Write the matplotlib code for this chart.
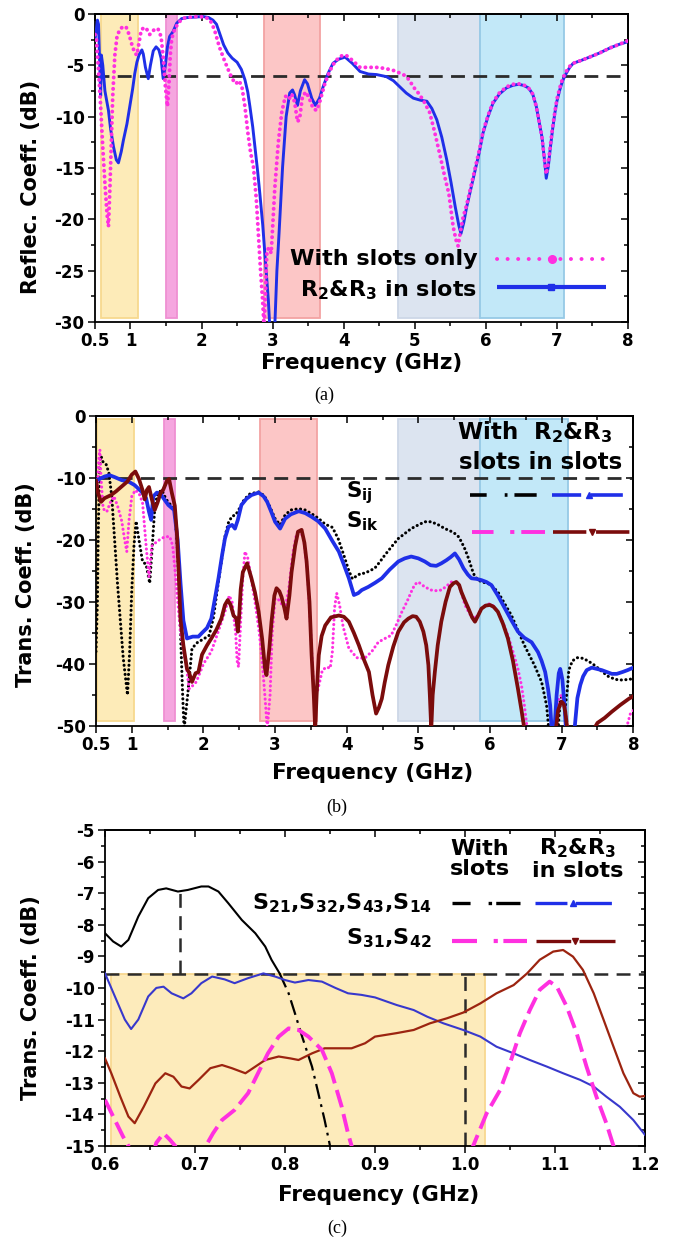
import numpy as np
import matplotlib
matplotlib.use("Agg")
import matplotlib.pyplot as plt
from matplotlib.ticker import NullFormatter

plt.rcParams["font.family"] = ["DejaVu Sans"]
plt.rcParams["font.weight"] = "bold"
plt.rcParams["axes.labelweight"] = "bold"
plt.rcParams["axes.unicode_minus"] = False
plt.rcParams["lines.scale_dashes"] = False
plt.rcParams["mathtext.fontset"] = "custom"
for key in ("rm", "it", "bf", "sf"):
    plt.rcParams["mathtext." + key] = "DejaVu Sans:bold"

# ---------------- (a) reflection coefficient ----------------
fa_r23 = [0.50, 0.52, 0.535, 0.55, 0.565, 0.58, 0.59, 0.61, 0.64, 0.69, 0.72, 0.76, 0.80, 0.83,
          0.87, 0.90, 0.95, 0.99, 1.03, 1.06, 1.09, 1.12, 1.16, 1.18, 1.21, 1.25, 1.28, 1.32,
          1.36, 1.40, 1.43, 1.46, 1.49, 1.52, 1.55, 1.60, 1.65, 1.72, 1.80, 1.90, 2.02, 2.10,
          2.16, 2.21, 2.26, 2.31, 2.37, 2.43, 2.50, 2.56, 2.61, 2.65, 2.68, 2.72, 2.75, 2.79,
          2.82, 2.86, 2.89, 2.92, 2.94, 2.96, 3.03, 3.06, 3.09, 3.14, 3.19, 3.24, 3.28, 3.31,
          3.35, 3.39, 3.45, 3.49, 3.55, 3.60, 3.66, 3.71, 3.78, 3.85, 3.93, 4.02, 4.12, 4.23,
          4.35, 4.46, 4.60, 4.70, 4.79, 4.88, 4.98, 5.08, 5.17, 5.24, 5.31, 5.38, 5.45, 5.51,
          5.57, 5.62, 5.65, 5.69, 5.73, 5.79, 5.85, 5.91, 5.96, 6.03, 6.10, 6.19, 6.29, 6.38,
          6.46, 6.53, 6.60, 6.66, 6.71, 6.75, 6.79, 6.83, 6.85, 6.88, 6.91, 6.94, 6.97, 7.00,
          7.04, 7.08, 7.13, 7.18, 7.23, 7.35, 7.46, 7.60, 7.75, 7.88, 8.00]
sa_r23 = [-2.5, -1.5, -0.6, -1.0, -4.5, -8.0, -4.0, -5.0, -7.5, -9.4, -11.2, -12.9, -14.2, -14.5,
          -13.4, -12.3, -10.7, -9.0, -7.3, -5.8, -4.7, -4.0, -3.5, -3.9, -5.2, -6.3, -5.0, -3.6,
          -3.2, -3.5, -4.3, -6.3, -5.0, -3.2, -2.2, -1.7, -0.9, -0.45, -0.35, -0.3, -0.25, -0.35,
          -0.6, -1.0, -2.0, -3.0, -3.8, -4.3, -4.7, -5.4, -6.4, -7.6, -9.0, -11.0, -12.9, -15.4,
          -17.5, -20.5, -23.3, -26.0, -27.9, -30.5, -30.5, -25.0, -21.4, -14.9, -10.0, -7.7, -7.4, -7.9,
          -8.9, -7.5, -6.4, -6.8, -8.2, -8.9, -8.2, -7.1, -5.8, -4.8, -4.4, -4.2, -4.8, -5.6,
          -5.85, -5.9, -6.1, -6.5, -7.1, -7.7, -8.2, -8.4, -8.5, -9.2, -10.3, -12.0, -14.2, -16.4,
          -18.8, -20.6, -21.4, -20.3, -18.8, -17.0, -15.2, -13.4, -11.6, -10.0, -8.7, -7.8, -7.2, -6.95,
          -6.85, -6.95, -7.2, -7.8, -9.0, -10.5, -12.0, -14.5, -16.0, -14.8, -12.9, -11.2, -9.7, -8.5,
          -7.4, -6.5, -5.8, -5.2, -4.8, -4.5, -4.2, -3.8, -3.3, -2.95, -2.7]

fa_slots = [0.50, 0.52, 0.55, 0.58, 0.61, 0.64, 0.67, 0.69, 0.71, 0.73, 0.75, 0.78, 0.81, 0.85,
            0.90, 0.94, 0.98, 1.02, 1.06, 1.09, 1.12, 1.15, 1.19, 1.23, 1.27, 1.31, 1.35, 1.39,
            1.43, 1.46, 1.49, 1.52, 1.54, 1.56, 1.58, 1.62, 1.68, 1.75, 1.85, 1.95, 2.05, 2.12,
            2.18, 2.25, 2.32, 2.38, 2.43, 2.48, 2.53, 2.57, 2.61, 2.65, 2.69, 2.73, 2.77, 2.80,
            2.83, 2.86, 2.88, 2.90, 2.92, 2.95, 2.98, 3.03, 3.08, 3.13, 3.18, 3.23, 3.27, 3.31,
            3.35, 3.38, 3.42, 3.47, 3.52, 3.57, 3.62, 3.67, 3.73, 3.80, 3.88, 3.96, 4.03, 4.12,
            4.23, 4.35, 4.46, 4.58, 4.70, 4.84, 4.92, 4.98, 5.05, 5.12, 5.21, 5.28, 5.35, 5.42,
            5.48, 5.54, 5.58, 5.61, 5.64, 5.68, 5.73, 5.79, 5.85, 5.91, 5.96, 6.03, 6.10, 6.19,
            6.29, 6.38, 6.46, 6.53, 6.60, 6.66, 6.71, 6.75, 6.79, 6.83, 6.85, 6.88, 6.91, 6.94,
            6.97, 7.00, 7.04, 7.08, 7.13, 7.18, 7.23, 7.35, 7.46, 7.60, 7.75, 7.88, 8.00]
sa_slots = [-2.0, -2.5, -5.5, -9.0, -13.0, -16.5, -19.5, -20.7, -17.0, -12.5, -8.0, -4.0, -2.2, -1.5,
            -1.2, -1.3, -2.0, -3.0, -3.8, -4.0, -2.8, -1.6, -1.3, -1.5, -2.0, -1.7, -1.4, -1.5,
            -2.2, -4.2, -7.0, -9.0, -7.0, -4.0, -2.4, -1.5, -0.8, -0.4, -0.3, -0.25, -0.3, -0.6,
            -1.5, -3.2, -4.5, -5.5, -6.3, -6.8, -6.5, -7.2, -9.0, -11.5, -13.5, -14.9, -18.0, -21.5,
            -25.0, -28.0, -30.5, -27.0, -23.0, -22.8, -23.3, -17.0, -12.5, -9.5, -8.0, -8.3, -7.8, -8.6,
            -10.5, -10.2, -8.0, -7.6, -8.3, -9.2, -9.4, -8.4, -6.9, -5.6, -4.6, -4.1, -4.0, -4.5,
            -5.2, -5.2, -5.2, -5.3, -5.5, -5.9, -6.4, -7.1, -7.7, -8.4, -9.6, -11.5, -13.6, -15.8,
            -17.5, -20.7, -22.0, -22.6, -21.3, -19.8, -18.6, -16.8, -15.0, -13.2, -11.5, -9.9, -8.6, -7.7,
            -7.1, -6.85, -6.8, -6.9, -7.2, -7.8, -9.0, -10.5, -12.0, -14.5, -15.6, -14.5, -12.7, -11.0,
            -9.6, -8.3, -7.2, -6.3, -5.6, -5.1, -4.8, -4.5, -4.2, -3.8, -3.3, -2.95, -2.6]

# ---------------- (b) transmission coefficient ----------------
fb_ij_slots = [0.50, 0.52, 0.53, 0.55, 0.57, 0.60, 0.64, 0.68, 0.72, 0.76, 0.80, 0.84, 0.88, 0.92,
               0.94, 0.97, 1.00, 1.03, 1.06, 1.10, 1.15, 1.20, 1.25, 1.28, 1.32, 1.36, 1.42, 1.48,
               1.55, 1.60, 1.64, 1.68, 1.71, 1.73, 1.78, 1.84, 1.92, 2.00, 2.08, 2.14, 2.20, 2.25,
               2.30, 2.35, 2.40, 2.45, 2.50, 2.57, 2.65, 2.77, 2.85, 2.92, 3.00, 3.07, 3.14, 3.22,
               3.33, 3.42, 3.51, 3.60, 3.70, 3.80, 3.88, 3.96, 4.03, 4.08, 4.14, 4.20, 4.25, 4.32,
               4.39, 4.46, 4.53, 4.62, 4.72, 4.81, 4.90, 5.00, 5.09, 5.18, 5.28, 5.37, 5.45, 5.51,
               5.56, 5.60, 5.65, 5.70, 5.75, 5.79, 5.88, 5.97, 6.04, 6.11, 6.20, 6.30, 6.39, 6.48,
               6.55, 6.62, 6.72, 6.79, 6.82, 6.95, 6.98, 7.01, 7.05, 7.08, 7.10, 7.15, 7.22, 7.30,
               7.38, 7.47, 7.56, 7.65, 7.75, 7.85, 8.00]
sb_ij_slots = [-38.0, -30.0, -20.0, -8.0, -6.5, -7.5, -7.8, -9.2, -13.0, -20.0, -27.0, -33.0, -39.0, -43.0,
               -45.0, -38.0, -28.0, -21.0, -17.0, -20.0, -23.5, -24.0, -27.0, -22.0, -15.0, -12.5, -12.0, -13.5,
               -14.5, -15.0, -22.0, -35.0, -45.0, -50.5, -45.0, -37.5, -36.5, -36.0, -35.4, -32.5, -27.5, -23.5,
               -19.5, -17.2, -16.2, -16.0, -15.0, -13.5, -12.6, -12.3, -12.9, -14.5, -16.6, -17.6, -16.0, -15.2,
               -15.0, -15.2, -15.8, -16.5, -17.5, -18.0, -19.8, -22.5, -25.0, -26.3, -25.8, -25.4, -25.4, -25.0,
               -24.6, -23.6, -22.5, -21.2, -19.8, -19.0, -18.2, -17.6, -17.1, -17.1, -17.6, -18.2, -18.6, -19.0,
               -19.5, -20.3, -21.5, -23.0, -24.8, -26.0, -26.8, -27.0, -27.6, -28.4, -30.2, -32.2, -34.6, -37.0,
               -38.6, -40.2, -42.9, -46.7, -50.5, -50.5, -46.0, -45.0, -47.0, -44.0, -41.0, -39.5, -39.0, -39.1,
               -39.6, -40.3, -41.2, -42.0, -42.5, -42.6, -42.4]

fb_ij_r23 = [0.50, 0.55, 0.62, 0.69, 0.76, 0.86, 0.95, 1.04, 1.14, 1.20, 1.24, 1.27, 1.30, 1.35,
             1.40, 1.46, 1.51, 1.59, 1.64, 1.68, 1.72, 1.77, 1.85, 1.93, 1.98, 2.05, 2.11, 2.16,
             2.21, 2.26, 2.30, 2.35, 2.40, 2.44, 2.48, 2.53, 2.60, 2.67, 2.77, 2.84, 2.89, 2.95,
             3.00, 3.07, 3.14, 3.22, 3.33, 3.42, 3.51, 3.60, 3.70, 3.80, 3.89, 3.96, 4.03, 4.10,
             4.16, 4.21, 4.30, 4.40, 4.49, 4.60, 4.72, 4.81, 4.90, 5.00, 5.09, 5.17, 5.25, 5.32,
             5.39, 5.45, 5.51, 5.57, 5.63, 5.69, 5.74, 5.81, 5.88, 5.95, 6.02, 6.11, 6.21, 6.30,
             6.39, 6.48, 6.58, 6.67, 6.72, 6.77, 6.81, 6.84, 6.86, 6.90, 6.93, 6.96, 6.98, 7.01,
             7.04, 7.06, 7.18, 7.22, 7.26, 7.30, 7.35, 7.42, 7.49, 7.56, 7.63, 7.70, 7.77, 7.85,
             7.92, 8.00]
sb_ij_r23 = [-10.4, -10.2, -9.8, -9.6, -9.9, -10.4, -10.6, -11.2, -12.3, -13.3, -15.5, -16.8, -13.0, -12.4,
             -12.6, -13.6, -14.4, -15.2, -20.0, -27.0, -33.0, -35.9, -35.6, -35.6, -35.0, -34.2, -32.7, -29.5,
             -26.2, -22.5, -19.8, -17.9, -17.6, -18.2, -16.8, -14.4, -13.4, -12.8, -12.4, -13.0, -13.9, -15.6,
             -17.1, -18.2, -16.6, -15.9, -15.4, -15.7, -16.3, -17.0, -18.2, -20.2, -21.9, -24.0, -26.2, -28.9,
             -28.6, -28.1, -27.6, -26.9, -26.2, -24.8, -23.5, -23.0, -22.7, -23.0, -23.5, -24.1, -24.2, -23.8,
             -23.3, -22.8, -22.2, -23.2, -24.6, -25.6, -26.2, -26.3, -26.5, -26.8, -27.3, -29.0, -31.1, -33.0,
             -34.8, -35.8, -36.5, -38.1, -39.5, -41.3, -44.0, -46.7, -50.5, -50.5, -45.0, -41.5, -40.8, -42.5,
             -46.7, -50.5, -50.5, -45.5, -43.4, -42.0, -41.0, -40.6, -40.8, -41.0, -41.3, -41.6, -41.6, -41.3,
             -41.0, -40.6]

fb_ik_slots = [0.50, 0.52, 0.54, 0.555, 0.57, 0.60, 0.65, 0.70, 0.75, 0.80, 0.86, 0.90, 0.93, 0.96,
               1.00, 1.05, 1.10, 1.15, 1.20, 1.24, 1.28, 1.33, 1.41, 1.47, 1.53, 1.57, 1.62, 1.68,
               1.76, 1.80, 1.85, 1.90, 2.00, 2.11, 2.20, 2.30, 2.36, 2.40, 2.45, 2.47, 2.49, 2.52,
               2.55, 2.58, 2.62, 2.67, 2.72, 2.78, 2.83, 2.87, 2.89, 2.93, 2.96, 3.00, 3.04, 3.10,
               3.14, 3.19, 3.25, 3.30, 3.35, 3.40, 3.45, 3.49, 3.52, 3.55, 3.60, 3.66, 3.72, 3.77,
               3.80, 3.83, 3.86, 3.90, 3.95, 4.03, 4.14, 4.25, 4.35, 4.44, 4.55, 4.62, 4.70, 4.77,
               4.84, 4.90, 4.95, 5.00, 5.09, 5.18, 5.25, 5.32, 5.39, 5.46, 5.55, 5.60, 5.65, 5.72,
               5.79, 5.84, 5.88, 5.94, 6.00, 6.05, 6.11, 6.18, 6.25, 6.32, 6.39, 6.44, 6.48, 6.52,
               6.92, 6.96, 7.00, 7.05, 7.08, 7.90, 7.96, 8.00]
sb_ik_slots = [-10.5, -12.0, -7.0, -5.5, -10.0, -15.0, -15.5, -14.0, -13.0, -14.5, -17.0, -20.0, -21.9, -17.0,
               -13.0, -12.0, -12.5, -14.0, -21.0, -26.0, -21.0, -20.5, -19.8, -19.5, -19.5, -20.9, -27.0, -35.0,
               -40.2, -44.0, -43.5, -42.9, -40.0, -38.0, -35.0, -31.6, -29.0, -30.0, -35.0, -39.5, -40.5, -33.0,
               -26.0, -21.9, -23.0, -26.5, -30.0, -35.0, -41.0, -47.0, -50.5, -45.0, -35.0, -29.5, -29.5, -30.5,
               -31.0, -28.0, -22.0, -19.0, -18.4, -20.0, -25.0, -33.0, -40.0, -46.0, -44.0, -41.0, -40.5, -40.7,
               -38.0, -31.0, -28.6, -30.5, -34.0, -37.5, -39.0, -39.1, -38.0, -36.5, -35.8, -35.4, -33.5, -31.6,
               -30.0, -28.4, -27.2, -26.8, -27.6, -28.1, -28.2, -28.1, -27.5, -26.8, -26.8, -28.5, -30.5, -32.0,
               -32.7, -32.0, -31.1, -30.5, -30.3, -30.7, -31.6, -33.3, -35.4, -38.0, -40.8, -43.5, -46.7, -50.5,
               -50.5, -45.5, -45.0, -47.0, -50.5, -50.5, -48.0, -47.5]

fb_ik_r23 = [0.50, 0.53, 0.57, 0.62, 0.71, 0.78, 0.85, 0.94, 1.00, 1.05, 1.10, 1.15, 1.18, 1.21,
             1.24, 1.28, 1.32, 1.36, 1.40, 1.44, 1.49, 1.52, 1.56, 1.60, 1.63, 1.66, 1.68, 1.72,
             1.77, 1.80, 1.84, 1.89, 1.93, 1.98, 2.05, 2.11, 2.18, 2.25, 2.30, 2.34, 2.38, 2.42,
             2.46, 2.48, 2.50, 2.52, 2.55, 2.61, 2.67, 2.72, 2.77, 2.82, 2.86, 2.88, 2.92, 2.95,
             2.99, 3.02, 3.06, 3.09, 3.13, 3.16, 3.20, 3.23, 3.28, 3.32, 3.37, 3.41, 3.44, 3.48,
             3.51, 3.54, 3.56, 3.58, 3.61, 3.65, 3.70, 3.78, 3.89, 3.96, 4.03, 4.10, 4.17, 4.24,
             4.31, 4.36, 4.41, 4.45, 4.49, 4.53, 4.58, 4.65, 4.72, 4.80, 4.86, 4.92, 4.97, 5.02,
             5.07, 5.11, 5.14, 5.16, 5.18, 5.20, 5.23, 5.27, 5.32, 5.38, 5.44, 5.49, 5.53, 5.57,
             5.60, 5.65, 5.70, 5.75, 5.79, 5.83, 5.88, 5.94, 6.00, 6.05, 6.11, 6.18, 6.25, 6.32,
             6.39, 6.44, 6.48, 6.92, 6.95, 6.98, 7.00, 7.03, 7.05, 7.08, 7.45, 7.50, 7.60, 7.70,
             7.82, 7.94, 8.00]
sb_ik_r23 = [-10.5, -12.5, -13.9, -13.3, -12.8, -12.2, -11.5, -10.6, -9.5, -9.0, -10.2, -12.0, -13.5, -12.0,
             -11.5, -13.5, -15.2, -14.0, -12.5, -11.9, -10.5, -10.2, -12.5, -14.5, -19.0, -27.0, -32.8, -37.0,
             -40.8, -41.4, -42.9, -41.5, -41.3, -38.5, -37.0, -35.9, -34.5, -32.7, -30.5, -29.7, -30.5, -32.2,
             -32.7, -34.8, -32.0, -28.0, -25.2, -23.8, -26.2, -28.5, -31.6, -36.0, -40.8, -41.8, -37.5, -33.2,
             -29.0, -27.8, -28.3, -29.2, -31.0, -32.7, -29.0, -25.2, -21.0, -18.7, -18.4, -20.5, -23.5, -30.0,
             -38.6, -45.0, -50.5, -45.0, -38.6, -35.5, -33.8, -32.5, -32.2, -32.4, -33.2, -35.0, -37.0, -39.3,
             -41.3, -45.0, -48.0, -47.0, -45.6, -43.0, -40.2, -37.2, -34.8, -33.3, -32.7, -32.3, -32.4, -33.2,
             -34.8, -37.0, -40.2, -45.0, -50.5, -45.0, -41.3, -37.0, -33.2, -30.0, -27.6, -27.0, -26.8, -27.3,
             -28.4, -29.8, -31.1, -32.5, -33.2, -32.3, -31.1, -30.6, -30.5, -30.8, -31.6, -33.5, -35.9, -39.5,
             -44.0, -47.5, -50.5, -50.5, -47.5, -46.5, -46.1, -46.5, -47.7, -50.5, -50.5, -49.5, -48.7, -47.7,
             -46.6, -45.6, -45.2]

# ---------------- (c) low-band zoom ----------------
fc_s21_slots = [0.600, 0.609, 0.618, 0.626, 0.637, 0.648, 0.659, 0.668, 0.681, 0.692, 0.707, 0.715,
                0.726, 0.737, 0.752, 0.767, 0.778, 0.785, 0.794, 0.804, 0.811, 0.819, 0.830, 0.837,
                0.844, 0.850]
sc_s21_slots = [-8.27, -8.53, -8.69, -8.48, -7.74, -7.16, -6.90, -6.85, -6.95, -6.90, -6.79, -6.79,
                -6.95, -7.32, -7.85, -8.27, -8.69, -9.11, -9.54, -10.17, -10.80, -11.54, -12.49, -13.33,
                -14.18, -15.00]

fc_s21_r23 = [0.600, 0.611, 0.622, 0.629, 0.637, 0.648, 0.657, 0.665, 0.674, 0.687, 0.696, 0.707,
              0.719, 0.733, 0.744, 0.759, 0.776, 0.789, 0.800, 0.811, 0.826, 0.841, 0.856, 0.870,
              0.885, 0.900, 0.924, 0.943, 0.958, 0.976, 0.998, 1.017, 1.035, 1.054, 1.072, 1.091,
              1.109, 1.128, 1.143, 1.157, 1.172, 1.187, 1.200]
sc_s21_r23 = [-9.54, -10.27, -11.00, -11.30, -11.00, -10.27, -10.00, -9.96, -10.17, -10.33, -10.17, -9.85,
              -9.64, -9.73, -9.85, -9.69, -9.54, -9.64, -9.75, -9.83, -9.75, -9.80, -10.00, -10.17,
              -10.22, -10.30, -10.54, -10.70, -10.91, -11.12, -11.33, -11.54, -11.86, -12.07, -12.28, -12.49,
              -12.70, -12.91, -13.12, -13.44, -13.76, -14.18, -14.65]

fc_s31_slots = [0.600, 0.611, 0.620, 0.626, 0.632, 0.650, 0.657, 0.665, 0.672, 0.678, 0.684, 0.700,
                0.712, 0.720, 0.730, 0.744, 0.759, 0.770, 0.781, 0.793, 0.804, 0.815, 0.826, 0.841,
                0.852, 0.863, 0.870, 0.874, 0.880, 1.000, 1.009, 1.024, 1.039, 1.050, 1.061, 1.072,
                1.083, 1.094, 1.102, 1.113, 1.124, 1.135, 1.146, 1.157, 1.165, 1.172]
sc_s31_slots = [-13.54, -14.18, -14.70, -15.00, -15.60, -15.60, -14.90, -14.60, -14.80, -15.00, -15.60, -15.60,
                -15.00, -14.60, -14.18, -13.86, -13.33, -12.70, -12.07, -11.54, -11.28, -11.33, -11.54, -11.96,
                -12.70, -13.76, -14.60, -15.00, -15.60, -15.60, -15.00, -13.97, -13.23, -12.38, -11.43, -10.70,
                -10.06, -9.80, -9.96, -10.59, -11.43, -12.49, -13.44, -14.28, -15.00, -15.60]

fc_s31_r23 = [0.600, 0.607, 0.617, 0.626, 0.633, 0.643, 0.656, 0.667, 0.676, 0.685, 0.694, 0.704,
              0.717, 0.730, 0.741, 0.756, 0.767, 0.778, 0.793, 0.806, 0.815, 0.830, 0.844, 0.859,
              0.874, 0.889, 0.900, 0.924, 0.943, 0.961, 0.980, 0.998, 1.017, 1.035, 1.054, 1.069,
              1.083, 1.098, 1.109, 1.120, 1.131, 1.143, 1.154, 1.165, 1.176, 1.187, 1.194, 1.200]
sc_s31_r23 = [-12.23, -12.70, -13.44, -14.07, -14.28, -13.76, -13.02, -12.70, -12.81, -13.12, -13.18, -12.91,
              -12.54, -12.44, -12.54, -12.70, -12.49, -12.28, -12.17, -12.23, -12.28, -12.07, -11.91, -11.91,
              -11.91, -11.75, -11.54, -11.43, -11.33, -11.12, -10.96, -10.78, -10.49, -10.17, -9.91, -9.54,
              -9.11, -8.85, -8.80, -9.01, -9.43, -10.17, -11.01, -11.86, -12.70, -13.33, -13.44, -13.42]

# reference levels and highlighted bands
ref_a, ref_b, ref_c = -6.0, -10.0, -9.55
bands_a_lo = [0.58, 1.50, 2.88, 4.77, 5.92]
bands_a_hi = [1.10, 1.66, 3.66, 5.92, 7.10]
bands_b_lo = [0.52, 1.45, 2.79, 4.72, 5.86]
bands_b_hi = [1.03, 1.61, 3.59, 5.86, 7.09]
band_c_lo, band_c_hi = 0.607, 1.022
vline_c_f = [0.683, 1.0]
vline_c_top = [-6.95, -9.55]
vline_c_bot = [-9.55, -15.0]

xt_ab = [0.5, 1, 2, 3, 4, 5, 6, 7, 8]
xt_ab_labels = ["0.5", "1", "2", "3", "4", "5", "6", "7", "8"]
xt_c = [0.6, 0.7, 0.8, 0.9, 1.0, 1.1, 1.2]
xt_c_labels = ["0.6", "0.7", "0.8", "0.9", "1.0", "1.1", "1.2"]

band_fill = ["#fdebb8", "#f5a6df", "#fcc6c6", "#dce4f0", "#c2e8f8"]
band_edge = ["#f7d98f", "#ef90d2", "#f3a3a3", "#cdd7e7", "#96c9e6"]

BLUE = "#1f2fe8"
PINK = "#ff30e0"
DRED = "#7b0c0c"
RED_C = "#9c2410"
BLUE_C = "#3838cc"
REFC = "#2b2b2b"

fig = plt.figure(figsize=(6.74, 12.37), dpi=100)
ax_a = fig.add_axes([0.1409, 0.7397, 0.7908, 0.2490])
ax_b = fig.add_axes([0.1424, 0.4131, 0.7972, 0.2509])
ax_c = fig.add_axes([0.1558, 0.0736, 0.8012, 0.2555])


def frame(ax, xlim, ylim, xmaj, xlabels, xmin, ymaj, ymin):
    ax.set_xlim(xlim)
    ax.set_ylim(ylim)
    ax.set_xticks(xmaj)
    ax.set_xticklabels(xlabels)
    ax.set_xticks(xmin, minor=True)
    ax.set_yticks(ymaj)
    ax.set_yticklabels([f"{v:g}" for v in ymaj])
    ax.set_yticks(ymin, minor=True)
    ax.tick_params(which="both", direction="out", top=False, right=False,
                   width=1.1, labelsize=12, pad=2.5)
    ax.tick_params(which="major", length=5)
    ax.tick_params(which="minor", length=3)
    for sp in ax.spines.values():
        sp.set_linewidth(1.3)
    # mirrored inward ticks on top and right
    top = ax.secondary_xaxis("top")
    top.set_xticks(xmaj)
    top.set_xticks(xmin, minor=True)
    top.xaxis.set_major_formatter(NullFormatter())
    top.tick_params(which="both", direction="in", width=1.1)
    top.tick_params(which="major", length=5)
    top.tick_params(which="minor", length=3)
    right = ax.secondary_yaxis("right")
    right.set_yticks(ymaj)
    right.set_yticks(ymin, minor=True)
    right.yaxis.set_major_formatter(NullFormatter())
    right.tick_params(which="both", direction="in", width=1.1)
    right.tick_params(which="major", length=5)
    right.tick_params(which="minor", length=3)
    for sec in (top, right):
        for sp in sec.spines.values():
            sp.set_linewidth(1.3)


def sample(ax, x0, x1, y, color, lw, dashes=None, marker=None, ms=5):
    kw = dict(color=color, lw=lw, transform=ax.transAxes, clip_on=False, zorder=6)
    if dashes:
        kw["dashes"] = dashes
    ax.plot([x0, x1], [y, y], solid_capstyle="butt", dash_capstyle="butt", **kw)
    if marker:
        ax.plot([(x0 + x1) / 2], [y], marker=marker, ms=ms, color=color,
                transform=ax.transAxes, clip_on=False, zorder=7)


def bands(ax, lo, hi, y0, y1):
    for a, b, fc, ec in zip(lo, hi, band_fill, band_edge):
        ax.axvspan(a, b, ymin=y0, ymax=y1, facecolor=fc, edgecolor=ec, lw=1.3, zorder=0)


# ---------------- panel (a) ----------------
bands(ax_a, bands_a_lo, bands_a_hi, 0.013, 1.0)
ax_a.axhline(ref_a, color=REFC, lw=2.0, dashes=(10, 6), zorder=2)
ax_a.plot(fa_r23, sa_r23, color=BLUE, lw=2.1, zorder=3)
ax_a.plot(fa_slots, sa_slots, color=PINK, lw=2.8, dashes=(0.1, 4.0),
          dash_capstyle="round", zorder=4)
frame(ax_a, (0.5, 8), (-30, 0), xt_ab, xt_ab_labels, np.arange(1.5, 8, 1.0),
      np.arange(-30, 1, 5), np.arange(-27.5, 0, 5))
ax_a.set_xlabel("Frequency (GHz)", fontsize=15.5)
ax_a.xaxis.set_label_coords(0.50, -0.10)
ax_a.set_ylabel("Reflec. Coeff. (dB)", fontsize=15)
ax_a.yaxis.set_label_coords(-0.101, 0.438)
ax_a.text(0.717, 0.205, "With slots only", transform=ax_a.transAxes, ha="right",
          va="center", fontsize=16, zorder=6)
ax_a.text(0.717, 0.104, "R$_2$&R$_3$ in slots", transform=ax_a.transAxes, ha="right",
          va="center", fontsize=16, zorder=6)
ax_a.plot([0.754, 0.959], [0.204, 0.204], color=PINK, lw=2.8, dashes=(0.1, 7.5),
          dash_capstyle="round", transform=ax_a.transAxes, clip_on=False, zorder=6)
ax_a.plot([0.857], [0.204], "o", color=PINK, ms=5.5, transform=ax_a.transAxes, zorder=7)
sample(ax_a, 0.754, 0.959, 0.115, BLUE, 3.0, marker="s", ms=4)

# ---------------- panel (b) ----------------
bands(ax_b, bands_b_lo, bands_b_hi, 0.016, 0.99)
ax_b.axhline(ref_b, color=REFC, lw=2.0, dashes=(10, 6), zorder=2)
ax_b.plot(fb_ij_slots, sb_ij_slots, color="black", lw=2.2, dashes=(0.1, 3.2),
          dash_capstyle="round", zorder=3)
ax_b.plot(fb_ik_slots, sb_ik_slots, color=PINK, lw=2.2, dashes=(0.1, 3.2),
          dash_capstyle="round", zorder=3)
ax_b.plot(fb_ij_r23, sb_ij_r23, color=BLUE, lw=2.7, zorder=4)
ax_b.plot(fb_ik_r23, sb_ik_r23, color=DRED, lw=2.7, zorder=5)
frame(ax_b, (0.5, 8), (-50, 0), xt_ab, xt_ab_labels, np.arange(1.5, 8, 1.0),
      np.arange(-50, 1, 10), np.arange(-45, 0, 10))
ax_b.set_xlabel("Frequency (GHz)", fontsize=15.5)
ax_b.xaxis.set_label_coords(0.515, -0.119)
ax_b.set_ylabel("Trans. Coeff. (dB)", fontsize=15)
ax_b.yaxis.set_label_coords(-0.111, 0.454)
ax_b.text(0.671, 0.947, "With  R$_2$&R$_3$", transform=ax_b.transAxes, ha="left",
          va="center", fontsize=16.5, zorder=6)
ax_b.text(0.675, 0.848, "slots in slots", transform=ax_b.transAxes, ha="left",
          va="center", fontsize=16.5, zorder=6)
ax_b.text(0.466, 0.751, "S$_{ij}$", transform=ax_b.transAxes, ha="left",
          va="center", fontsize=15.5, zorder=6)
ax_b.text(0.466, 0.661, "S$_{ik}$", transform=ax_b.transAxes, ha="left",
          va="center", fontsize=15.5, zorder=6)
sample(ax_b, 0.696, 0.823, 0.744, "black", 2.6, dashes=(12, 13, 2, 5, 16, 20))
sample(ax_b, 0.848, 0.988, 0.744, BLUE, 2.6, dashes=(21, 7, 23, 10), marker="^", ms=5)
sample(ax_b, 0.699, 0.836, 0.626, PINK, 2.8, dashes=(15.5, 12, 3, 5, 18, 20))
sample(ax_b, 0.851, 0.994, 0.626, DRED, 2.6, dashes=(24, 7, 24, 10), marker="v", ms=5)

# ---------------- panel (c) ----------------
ax_c.fill_between([band_c_lo, band_c_hi], -15, ref_c, facecolor="#fdebbb",
                  edgecolor="#f8d890", lw=1.3, zorder=0)
ax_c.axhline(ref_c, color=REFC, lw=1.8, dashes=(10, 6), zorder=2)
ax_c.vlines(vline_c_f, vline_c_bot, vline_c_top, color=REFC, lw=1.8,
            linestyles=(0, (10, 6)), zorder=2)
split = int(np.nonzero(np.array(sc_s21_slots) >= ref_c)[0][-1])
ax_c.plot(fc_s21_slots[:split + 1], sc_s21_slots[:split + 1], color="black", lw=1.5, zorder=3)
ax_c.plot(fc_s21_slots[split:], sc_s21_slots[split:], color="black", lw=1.6,
          dashes=(11, 4, 2, 4), zorder=3)
ax_c.plot(fc_s21_r23, sc_s21_r23, color=BLUE_C, lw=1.5, zorder=4)
ax_c.plot(fc_s31_r23, sc_s31_r23, color=RED_C, lw=1.6, zorder=4)
ax_c.plot(fc_s31_slots, sc_s31_slots, color=PINK, lw=2.8, dashes=(13, 5), zorder=5)
frame(ax_c, (0.6, 1.2), (-15, -5), xt_c, xt_c_labels, np.arange(0.65, 1.2, 0.1),
      np.arange(-15, -4, 1), np.arange(-14.5, -5, 1))
ax_c.set_xlabel("Frequency (GHz)", fontsize=15.5)
ax_c.xaxis.set_label_coords(0.506, -0.123)
ax_c.set_ylabel("Trans. Coeff. (dB)", fontsize=15)
ax_c.yaxis.set_label_coords(-0.1185, 0.468)
ax_c.text(0.694, 0.908, "With\nslots", transform=ax_c.transAxes, ha="center",
          va="center", fontsize=16, linespacing=1.05, zorder=6)
ax_c.text(0.875, 0.908, "R$_2$&R$_3$\nin slots", transform=ax_c.transAxes, ha="center",
          va="center", fontsize=16, linespacing=1.05, zorder=6)
ax_c.text(0.605, 0.769, "S$_{21}$,S$_{32}$,S$_{43}$,S$_{14}$", transform=ax_c.transAxes,
          ha="right", va="center", fontsize=16, zorder=6)
ax_c.text(0.605, 0.658, "S$_{31}$,S$_{42}$", transform=ax_c.transAxes,
          ha="right", va="center", fontsize=16, zorder=6)
sample(ax_c, 0.642, 0.769, 0.769, "black", 2.4, dashes=(13, 13, 2.5, 3, 18, 20))
sample(ax_c, 0.796, 0.938, 0.769, BLUE, 2.4, dashes=(23, 6, 26, 10), marker="^", ms=5)
sample(ax_c, 0.643, 0.781, 0.647, PINK, 3.0, dashes=(18, 12, 3, 4, 20, 20))
sample(ax_c, 0.798, 0.944, 0.647, DRED, 2.4, dashes=(25, 6, 26, 10), marker="v", ms=5)

for lab, xf, yf in (("(a)", 0.481, 0.6807), ("(b)", 0.500, 0.3476), ("(c)", 0.500, 0.0073)):
    fig.text(xf, yf, lab, ha="center", va="center", fontsize=13,
             family=["Liberation Serif", "DejaVu Serif"], weight="normal")

fig.savefig("out.png", dpi=100)
